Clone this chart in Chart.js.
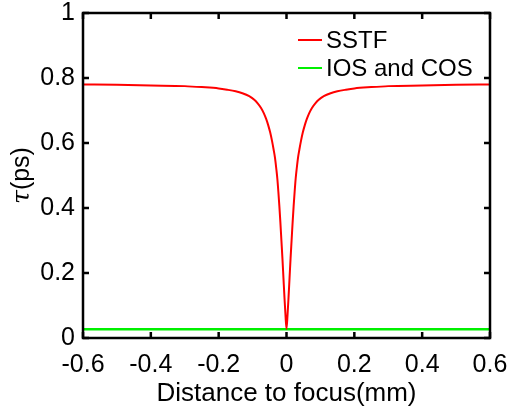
<!DOCTYPE html>
<html>
<head>
<meta charset="utf-8">
<script src="https://cdn.jsdelivr.net/npm/chart.js@4/dist/chart.umd.min.js"></script>
<style>
  html, body { margin: 0; padding: 0; background: #fff; }
  #wrap { width: 509px; height: 411px; position: relative; }
</style>
</head>
<body>
<div id="wrap"><canvas id="myChart"></canvas></div>
<script>
// distance to focus (mm) and pulse duration tau (ps)
var sstfX = [-0.6, -0.5, -0.4, -0.3, -0.25, -0.2, -0.175, -0.15, -0.13, -0.11, -0.095, -0.085, -0.075, -0.067, -0.06, -0.054, -0.048, -0.043, -0.038, -0.034, -0.03, -0.027, -0.024, -0.021, -0.018, -0.015, -0.012, -0.009, -0.006, -0.003, 0,
             0.003, 0.006, 0.009, 0.012, 0.015, 0.018, 0.021, 0.024, 0.027, 0.03, 0.034, 0.038, 0.043, 0.048, 0.054, 0.06, 0.067, 0.075, 0.085, 0.095, 0.11, 0.13, 0.15, 0.175, 0.2, 0.25, 0.3, 0.4, 0.5, 0.6];
var sstfY = [0.780, 0.779, 0.777, 0.775, 0.772, 0.768, 0.764, 0.759, 0.753, 0.744, 0.733, 0.722, 0.708, 0.692, 0.674, 0.655, 0.632, 0.608, 0.580, 0.555, 0.520, 0.490, 0.450, 0.405, 0.355, 0.300, 0.245, 0.185, 0.125, 0.070, 0.028,
             0.070, 0.125, 0.185, 0.245, 0.300, 0.355, 0.405, 0.450, 0.490, 0.520, 0.555, 0.580, 0.608, 0.632, 0.655, 0.674, 0.692, 0.708, 0.722, 0.733, 0.744, 0.753, 0.759, 0.764, 0.768, 0.772, 0.775, 0.777, 0.779, 0.780];
var iosX = [-0.6, 0.6];
var iosY = [0.027, 0.027];
var seriesLabels = ['SSTF', 'IOS and COS'];
var xTitle = 'Distance to focus(mm)';

var toPoints = function(xs, ys){
    var arr = [];
    for (var i = 0; i < xs.length; i++) arr.push({x: xs[i], y: ys[i]});
    return arr;
};

var fmt = function(v){ return String(+Number(v).toFixed(1)); };

// box round the plot, inward ticks on all four sides, legend, y title
var framePlugin = {
    id: 'frame',
    afterDatasetsDraw: function(chart){
        var ctx = chart.ctx, a = chart.chartArea;
        var xs = chart.scales.x, ys = chart.scales.y;
        ctx.save();
        ctx.strokeStyle = '#000';
        ctx.lineWidth = 2.5;
        ctx.beginPath();
        xs.ticks.forEach(function(t){
            var px = xs.getPixelForValue(t.value);
            ctx.moveTo(px, a.bottom); ctx.lineTo(px, a.bottom - 6);
            ctx.moveTo(px, a.top); ctx.lineTo(px, a.top + 6);
        });
        ys.ticks.forEach(function(t){
            var py = ys.getPixelForValue(t.value);
            ctx.moveTo(a.left, py); ctx.lineTo(a.left + 6, py);
            ctx.moveTo(a.right, py); ctx.lineTo(a.right - 6, py);
        });
        ctx.stroke();
        ctx.strokeRect(a.left, a.top, a.right - a.left, a.bottom - a.top);

        // legend
        ctx.font = '24px "Liberation Sans", Arial, sans-serif';
        ctx.textBaseline = 'middle';
        ctx.fillStyle = '#000';
        chart.data.datasets.forEach(function(ds, i){
            var y = 40 + 28 * i;
            ctx.strokeStyle = ds.borderColor;
            ctx.lineWidth = 2;
            ctx.beginPath(); ctx.moveTo(298, y); ctx.lineTo(322, y); ctx.stroke();
            ctx.fillText(ds.label, 326, y + 1);
        });

        // y title with italic tau
        ctx.translate(22, (a.top + a.bottom) / 2);
        ctx.rotate(-Math.PI / 2);
        ctx.font = 'italic 25px "DejaVu Serif", serif';
        var w1 = ctx.measureText('τ').width;
        ctx.font = '25px "Liberation Sans", Arial, sans-serif';
        var w2 = ctx.measureText('(ps)').width;
        var x0 = -(w1 + w2) / 2;
        ctx.textAlign = 'left';
        ctx.font = 'italic 25px "DejaVu Serif", serif';
        ctx.fillText('τ', x0, 0);
        ctx.font = '25px "Liberation Sans", Arial, sans-serif';
        ctx.fillText('(ps)', x0 + w1, 0);
        ctx.restore();
    }
};

var ctx1 = document.getElementById('myChart');
var mChart = new Chart(ctx1, {
    type: 'scatter',
    data: {
        datasets: [
            {
                label: seriesLabels[0],
                data: toPoints(sstfX, sstfY),
                showLine: true,
                borderColor: '#ff0000',
                borderWidth: 2,
                pointRadius: 0,
                tension: 0.3,
                cubicInterpolationMode: 'monotone'
            },
            {
                label: seriesLabels[1],
                data: toPoints(iosX, iosY),
                showLine: true,
                borderColor: '#00f000',
                borderWidth: 2.5,
                pointRadius: 0
            }
        ]
    },
    options: {
        responsive: true,
        maintainAspectRatio: false,
        animation: false,
        layout: { padding: { top: 13, right: 19, left: 0, bottom: 0 } },
        plugins: { legend: { display: false }, tooltip: { enabled: false } },
        scales: {
            x: {
                type: 'linear',
                min: -0.6,
                max: 0.6,
                afterFit: function(s){ s.height = 73; s.paddingLeft = 0; s.paddingRight = 0; },
                grid: { display: false, drawTicks: false },
                border: { display: false },
                ticks: {
                    stepSize: 0.2,
                    padding: 12,
                    color: '#000',
                    font: { family: '"Liberation Sans", Arial, sans-serif', size: 25 },
                    callback: fmt
                },
                title: {
                    display: true,
                    text: xTitle,
                    color: '#000',
                    padding: { top: 0, bottom: 2 },
                    font: { family: '"Liberation Sans", Arial, sans-serif', size: 26 }
                }
            },
            y: {
                min: 0,
                max: 1,
                afterFit: function(s){ s.width = 83; s.paddingTop = 0; s.paddingBottom = 0; },
                grid: { display: false, drawTicks: false },
                border: { display: false },
                ticks: {
                    stepSize: 0.2,
                    padding: 8,
                    color: '#000',
                    font: { family: '"Liberation Sans", Arial, sans-serif', size: 25 },
                    callback: fmt
                }
            }
        }
    },
    plugins: [framePlugin]
});
</script>
</body>
</html>
